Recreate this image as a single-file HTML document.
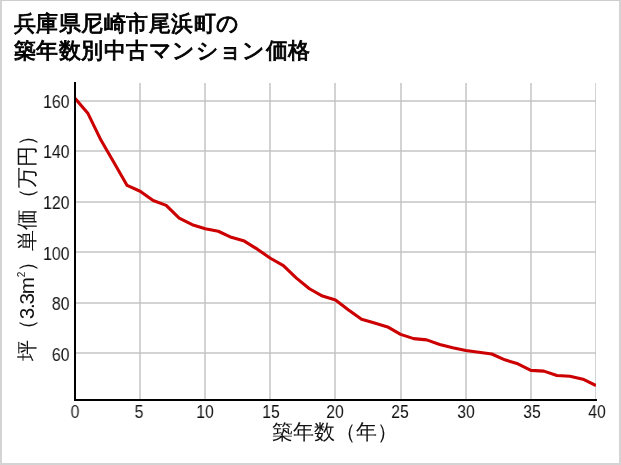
<!DOCTYPE html>
<html><head><meta charset="utf-8"><style>
html,body{margin:0;padding:0;background:#fff;}
body{width:621px;height:465px;position:relative;overflow:hidden;font-family:"Liberation Sans",sans-serif;}
.frame{position:absolute;left:0;top:0;width:617px;height:462px;border:2px solid #d4d4d4;border-top:1px solid #cdcdcd;}
.t{position:absolute;will-change:transform;left:14px;letter-spacing:0.45px;font-size:22px;font-weight:normal;-webkit-text-stroke:0.9px #000;color:#000;white-space:nowrap;line-height:27px;}
svg{position:absolute;left:0;top:0;}
.yl{position:absolute;will-change:transform;left:10px;width:59.6px;transform:scaleX(0.88);transform-origin:100% 50%;text-align:right;font-size:18px;line-height:22px;color:#111;}
.xl{position:absolute;will-change:transform;top:400.8px;transform:scaleX(0.87);width:60px;text-align:center;font-size:18px;line-height:22px;color:#111;}
.xt{position:absolute;will-change:transform;left:269px;top:419.6px;width:132px;text-align:center;font-size:20.6px;line-height:24px;color:#111;white-space:nowrap;}
.nm{letter-spacing:-1.2px;}
sup{font-size:10px;vertical-align:0;position:relative;top:-9px;margin-left:1px;}
.yt{position:absolute;left:29px;top:241.2px;width:0;height:0;}
.yt div{position:absolute;will-change:transform;left:-120px;top:-12px;width:240px;text-align:center;font-size:20.6px;line-height:24px;color:#111;white-space:nowrap;transform:rotate(-90deg);}
</style></head><body>
<div class="frame"></div>
<div class="t" style="top:10px">兵庫県尼崎市尾浜町の</div>
<div class="t" style="top:37px">築年数別中古マンション価格</div>
<svg width="621" height="465" viewBox="0 0 621 465">
<defs><clipPath id="cp"><rect x="75" y="83" width="521" height="317"/></clipPath></defs>
<g fill="rgba(192,192,192,0.7)" shape-rendering="crispEdges">
<rect x="139" y="83" width="2" height="317" />
<rect x="204" y="83" width="2" height="317" />
<rect x="269" y="83" width="2" height="317" />
<rect x="334" y="83" width="2" height="317" />
<rect x="400" y="83" width="2" height="317" />
<rect x="465" y="83" width="2" height="317" />
<rect x="530" y="83" width="2" height="317" />
<rect x="595" y="83" width="1" height="317" />
<rect x="75" y="352" width="521" height="2" />
<rect x="75" y="302" width="521" height="2" />
<rect x="75" y="251" width="521" height="2" />
<rect x="75" y="201" width="521" height="2" />
<rect x="75" y="150" width="521" height="2" />
<rect x="75" y="100" width="521" height="2" />
</g>
<polyline clip-path="url(#cp)" points="75.00,98.23 88.03,113.60 101.05,140.31 114.08,162.74 127.10,185.42 140.12,191.22 153.15,200.54 166.18,205.33 179.20,218.18 192.23,224.73 205.25,228.76 218.28,231.28 231.30,237.33 244.33,241.11 257.35,249.18 270.38,258.25 283.40,265.56 296.43,278.16 309.45,288.74 322.48,296.05 335.50,300.08 348.53,309.91 361.55,319.23 374.57,323.01 387.60,326.92 400.62,334.35 413.65,338.64 426.68,339.90 439.70,344.43 452.73,347.71 465.75,350.48 478.78,352.24 491.80,354.01 504.82,359.80 517.85,363.84 530.88,370.39 543.90,371.14 556.92,375.43 569.95,376.18 582.98,379.21 596.00,385.58" fill="none" stroke="#cc0000" stroke-width="3.1" stroke-linejoin="round" stroke-linecap="butt"/>
<g fill="#000" shape-rendering="crispEdges"><rect x="74" y="82" width="2" height="319"/><rect x="74" y="399" width="523" height="2"/></g>
</svg>
<div class="yl" style="top:90.8px">160</div>
<div class="yl" style="top:141.4px">140</div>
<div class="yl" style="top:192.0px">120</div>
<div class="yl" style="top:242.6px">100</div>
<div class="yl" style="top:293.2px">80</div>
<div class="yl" style="top:343.8px">60</div>
<div class="xl" style="left:44.65px">0</div>
<div class="xl" style="left:109.45px">5</div>
<div class="xl" style="left:175.35px">10</div>
<div class="xl" style="left:241.05px">15</div>
<div class="xl" style="left:304.70px">20</div>
<div class="xl" style="left:369.65px">25</div>
<div class="xl" style="left:435.80px">30</div>
<div class="xl" style="left:501.55px">35</div>
<div class="xl" style="left:566.90px">40</div>
<div class="xt">築年数（年）</div>
<div class="yt"><div>坪（<span class="nm">3.3m</span><sup>2</sup>）単価（万円）</div></div>
</body></html>
